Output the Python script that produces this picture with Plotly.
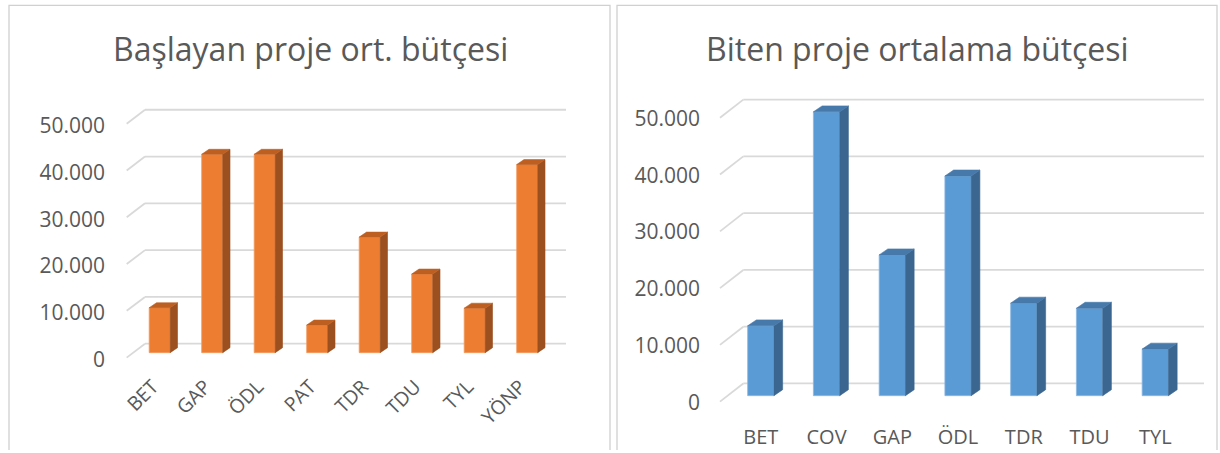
import plotly.graph_objects as go

# ---------------- data ----------------
left_title = "Başlayan proje ort. bütçesi"
left_categories = ["BET", "GAP", "ÖDL", "PAT", "TDR", "TDU", "TYL", "YÖNP"]
left_values = [9600, 42400, 42400, 5900, 24700, 16800, 9500, 40200]

right_title = "Biten proje ortalama bütçesi"
right_categories = ["BET", "COV", "GAP", "ÖDL", "TDR", "TDU", "TYL"]
right_values = [12300, 50000, 24800, 38700, 16300, 15400, 8200]

y_ticks = [0, 10000, 20000, 30000, 40000, 50000]

# ---------------- style ----------------
W, H = 1220, 453
FONT = "Open Sans"
TXT = "#595959"
GRID = "#d9d9d9"
BORDER = "#d0d0d0"


def fx(px):
    return px / W


def fy(py):
    return 1 - py / H


fig = go.Figure()


def add_chart(cats, vals, xr, yr, front, side, top, edge, bar_w, base, ddx, ddy,
              back_dy, front_dy, x_back_left, x_front, x_back_right):
    """base/ddx/ddy/back_dy/front_dy are the pseudo-3D depth offsets (style)."""
    pos = list(range(len(cats)))
    # gridlines (back wall + floor diagonal), drawn below the bars
    for t in y_ticks:
        fig.add_shape(type="line", xref=xr, yref=yr, layer="below",
                      x0=x_back_left, y0=t + back_dy, x1=x_back_right, y1=t + back_dy,
                      line=dict(color=GRID, width=1.8))
        fig.add_shape(type="line", xref=xr, yref=yr, layer="below",
                      x0=x_front, y0=t + front_dy, x1=x_back_left, y1=t + back_dy,
                      line=dict(color=GRID, width=1.8))
    fig.add_trace(go.Bar(x=pos, y=vals, base=base, width=bar_w, xaxis=xr, yaxis=yr,
                         marker=dict(color=front, line=dict(color=edge, width=0.8)),
                         showlegend=False, hoverinfo="skip"))
    sx, sy, tx, ty = [], [], [], []
    for p, v in zip(pos, vals):
        r = p + bar_w / 2
        l = p - bar_w / 2
        b = base
        sx += [r, r + ddx, r + ddx, r, r, None]
        sy += [b, b + ddy, b + v + ddy, b + v, b, None]
        tx += [l, l + ddx, r + ddx, r, l, None]
        ty += [b + v, b + v + ddy, b + v + ddy, b + v, b + v, None]
    fig.add_trace(go.Scatter(x=sx, y=sy, xaxis=xr, yaxis=yr, mode="lines",
                             fill="toself", fillcolor=side,
                             line=dict(color=side, width=0.6),
                             showlegend=False, hoverinfo="skip"))
    fig.add_trace(go.Scatter(x=tx, y=ty, xaxis=xr, yaxis=yr, mode="lines",
                             fill="toself", fillcolor=top,
                             line=dict(color=top, width=0.6),
                             showlegend=False, hoverinfo="skip"))
    return pos


# left chart: pixel geometry -> axis ranges
L_x0, L_dx = 159.7, 52.5          # px of category 0, px per category
L_y0, L_dy = 362.0, 47.1 / 10000  # px of tick value 0 (label plane), px per unit
Lx_dom = (110, 590)
Ly_dom = (95, 372)
Lx_range = [(Lx_dom[0] - L_x0) / L_dx, (Lx_dom[1] - L_x0) / L_dx]
Ly_range = [(L_y0 - Ly_dom[1]) / L_dy, (L_y0 - Ly_dom[0]) / L_dy]

lpos = add_chart(left_categories, left_values, "x", "y",
                 "#ED7D31", "#9C4F1F", "#BE5F22", "#F29A5E",
                 0.4, (L_y0 - 355) / L_dy, 7.3 / L_dx, 5 / L_dy,
                 (L_y0 - 346) / L_dy, (L_y0 - 360) / L_dy,
                 (145 - L_x0) / L_dx, (126.7 - L_x0) / L_dx, (566 - L_x0) / L_dx)

# right chart
R_x0, R_dx = 760.8, 65.75
R_y0, R_dy = 405.0, 57.14 / 10000
Rx_dom = (712, 1210)
Ry_dom = (85, 415)
Rx_range = [(Rx_dom[0] - R_x0) / R_dx, (Rx_dom[1] - R_x0) / R_dx]
Ry_range = [(R_y0 - Ry_dom[1]) / R_dy, (R_y0 - Ry_dom[0]) / R_dy]

rpos = add_chart(right_categories, right_values, "x2", "y2",
                 "#5B9BD5", "#3B6690", "#4779AB", "#8AB8E3",
                 0.4, (R_y0 - 398.3) / R_dy, 8.7 / R_dx, 6 / R_dy,
                 (R_y0 - 386) / R_dy, (R_y0 - 404.3) / R_dy,
                 (743.3 - R_x0) / R_dx, (720 - R_x0) / R_dx, (1204 - R_x0) / R_dx)

# chart frames, drawn on a full-page overlay axis in pixel units
frame_x = [9, 9, 610, 610, None, 617, 617, 1217, 1217]
frame_y = [H, 5.5, 5.5, H, None, H, 5.5, 5.5, H]
fig.add_trace(go.Scatter(x=frame_x, y=frame_y, xaxis="x3", yaxis="y3", mode="lines",
                         line=dict(color=BORDER, width=1.3), showlegend=False,
                         hoverinfo="skip", cliponaxis=False))

axis_common = dict(showgrid=False, zeroline=False, showline=False, ticks="",
                   fixedrange=True)

fig.update_layout(
    width=W, height=H,
    margin=dict(l=0, r=0, t=0, b=0),
    paper_bgcolor="white", plot_bgcolor="rgba(0,0,0,0)",
    separators=",.",
    font=dict(family=FONT, color=TXT),
    xaxis=dict(domain=[fx(Lx_dom[0]), fx(Lx_dom[1])], range=Lx_range,
               anchor="free", position=fy(373),
               tickvals=lpos, ticktext=left_categories, tickangle=-45,
               tickfont=dict(size=19.5, color=TXT, family=FONT),
               ticklabelstandoff=0, ticklabelshift=-7, **axis_common),
    yaxis=dict(domain=[fy(Ly_dom[1]), fy(Ly_dom[0])], range=Ly_range, anchor="x",
               tickvals=y_ticks, tickformat=",d",
               tickfont=dict(size=21, color=TXT, family=FONT),
               ticklabelstandoff=4, **axis_common),
    xaxis2=dict(domain=[fx(Rx_dom[0]), fx(Rx_dom[1])], range=Rx_range, anchor="y2",
                tickvals=rpos, ticktext=right_categories, tickangle=0,
                tickfont=dict(size=20, color=TXT, family=FONT),
                ticklabelstandoff=11, **axis_common),
    yaxis2=dict(domain=[fy(Ry_dom[1]), fy(Ry_dom[0])], range=Ry_range, anchor="x2",
                tickvals=y_ticks, tickformat=",d",
                tickfont=dict(size=21, color=TXT, family=FONT),
                ticklabelstandoff=11, **axis_common),
    xaxis3=dict(domain=[0, 1], range=[0, W], anchor="y3", visible=False, fixedrange=True),
    yaxis3=dict(domain=[0, 1], range=[H, 0], anchor="x3", visible=False, fixedrange=True),
    annotations=[
        dict(text=left_title, xref="paper", yref="paper", x=fx(310.4), y=fy(49),
             xanchor="center", yanchor="middle", showarrow=False,
             font=dict(family=FONT, size=32, color=TXT)),
        dict(text=right_title, xref="paper", yref="paper", x=fx(917.9), y=fy(49),
             xanchor="center", yanchor="middle", showarrow=False,
             font=dict(family=FONT, size=32, color=TXT)),
    ],
)

fig.write_html(
    "out.html",
    config={"displayModeBar": False},
    post_script="document.body.style.margin='0';document.body.style.overflow='hidden';",
)
